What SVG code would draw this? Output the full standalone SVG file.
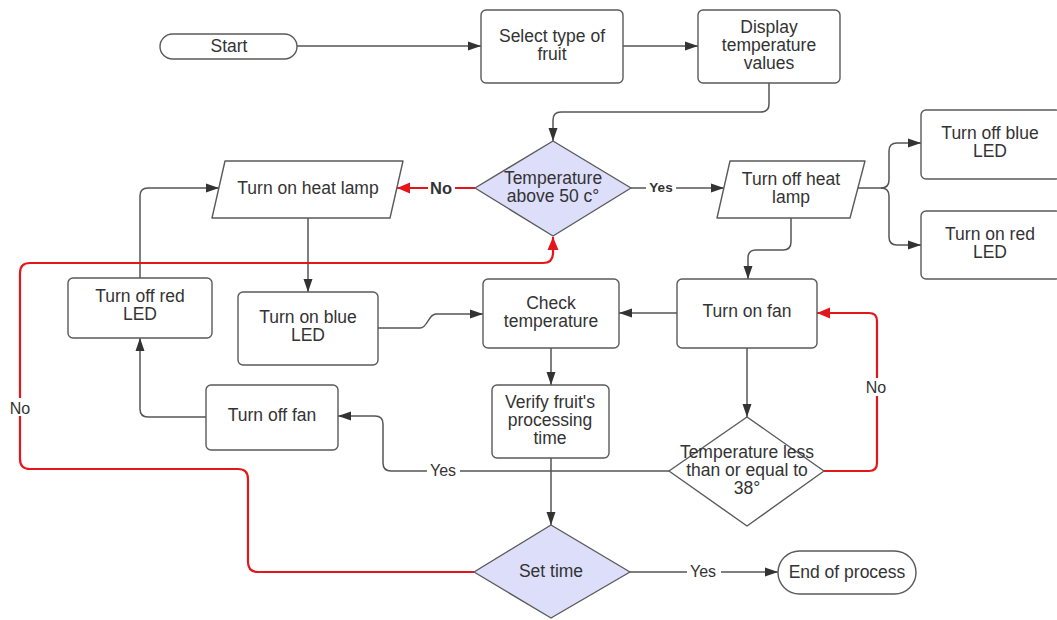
<svg xmlns="http://www.w3.org/2000/svg" width="1057" height="620" viewBox="0 0 1057 620">
<style>
.n{fill:#fff;stroke:#5a5a5a;stroke-width:1.4;stroke-linejoin:round}
.d{fill:#dddefa;stroke:#5a5a5a;stroke-width:1.4;stroke-linejoin:round}
.t{font-family:"Liberation Sans",Arial,sans-serif;font-size:17.5px;fill:#333;text-anchor:middle}
.c{fill:none;stroke:#555;stroke-width:1.5}
.r{fill:none;stroke:#e3171b;stroke-width:2.2}
.l{font-family:"Liberation Sans",Arial,sans-serif;font-size:16px;fill:#333;text-anchor:middle}
.lb{font-family:"Liberation Sans",Arial,sans-serif;font-weight:bold;fill:#333;text-anchor:middle}
</style>
<defs>
<marker id="a" markerUnits="userSpaceOnUse" markerWidth="14" markerHeight="10" refX="13" refY="5" orient="auto"><path d="M0,0.5 L13,5 L0,9.5 Z" fill="#333"/></marker>
<marker id="ar" markerUnits="userSpaceOnUse" markerWidth="14" markerHeight="12" refX="13" refY="6" orient="auto"><path d="M0,0.5 L13,6 L0,11.5 Z" fill="#e3171b"/></marker>
</defs>
<rect width="1057" height="620" fill="#fff"/>
<g id="connectors">
<path class="c" marker-end="url(#a)" d="M297,46 H481"/>
<path class="c" marker-end="url(#a)" d="M623,46 H698"/>
<path class="c" marker-end="url(#a)" d="M769,83 V104 Q769,112 761,112 H561 Q553,112 553,120 V141"/>
<path class="r" marker-end="url(#ar)" d="M475,188 H397"/>
<path class="c" marker-end="url(#a)" d="M631,188 H724"/>
<path class="c" marker-end="url(#a)" d="M858,188 H881 Q889,188 889,180 V151 Q889,143 897,143 H921"/>
<path class="c" marker-end="url(#a)" d="M881,188 Q889,188 889,196 V237 Q889,245 897,245 H921"/>
<path class="c" marker-end="url(#a)" d="M791,218 V242 Q791,250 783,250 H756 Q748,250 748,258 V279"/>
<path class="c" marker-end="url(#a)" d="M308,218 V292"/>
<path class="c" marker-end="url(#a)" d="M378,328 H420 C428,328 428,314 436,314 H483"/>
<path class="c" marker-end="url(#a)" d="M677,313 H619"/>
<path class="c" marker-end="url(#a)" d="M551,348 V385"/>
<path class="c" marker-end="url(#a)" d="M551,458 V525"/>
<path class="c" marker-end="url(#a)" d="M747,348 V417"/>
<path class="c" marker-end="url(#a)" d="M669,471 H391 Q383,471 383,463 V424 Q383,416 375,416 H338"/>
<path class="r" marker-end="url(#ar)" d="M824,471 H869 Q877,471 877,463 V321 Q877,313 869,313 H817"/>
<path class="c" marker-end="url(#a)" d="M206,417 H148 Q140,417 140,409 V338"/>
<path class="c" marker-end="url(#a)" d="M140,278 V196 Q140,188 148,188 H219"/>
<path class="c" marker-end="url(#a)" d="M630,572 H778"/>
<path class="r" marker-end="url(#ar)" d="M474,572 H258 Q248,572 248,562 V479 Q248,469 238,469 H30 Q20,469 20,459 V273 Q20,263 30,263 H543 Q553,263 553,253 V237"/>
<rect x="428" y="178" width="27" height="18" fill="#fff"/>
<text class="lb" x="441" y="194" font-size="16.5">No</text>
<rect x="646" y="180" width="30" height="14" fill="#fff"/>
<text class="lb" x="661" y="192" font-size="13.5">Yes</text>
<rect x="427" y="461" width="33" height="17" fill="#fff"/>
<text class="l" x="443" y="476">Yes</text>
<rect x="864" y="378" width="24" height="18" fill="#fff"/>
<text class="l" x="876" y="393">No</text>
<rect x="8" y="398" width="26" height="18" fill="#fff"/>
<text class="l" x="20" y="414">No</text>
<rect x="687" y="563" width="34" height="16" fill="#fff"/>
<text class="l" x="703" y="577">Yes</text>
</g>
<g id="start"><rect class="n" x="160" y="34" width="137" height="25" rx="12.5"/><text class="t" x="229" y="52">Start</text></g>
<g id="select"><rect class="n" x="481" y="10" width="142" height="73" rx="5"/><text class="t" x="552" y="42">Select type of</text><text class="t" x="552" y="60">fruit</text></g>
<g id="display"><rect class="n" x="698" y="10" width="142" height="73" rx="5"/><text class="t" x="769" y="33">Display</text><text class="t" x="769" y="51">temperature</text><text class="t" x="769" y="69">values</text></g>
<g id="dec50"><polygon class="d" points="553,141 631,188 553,236 475,188"/><text class="t" x="553" y="184">Temperature</text><text class="t" x="553" y="202">above 50 c°</text></g>
<g id="heaton"><polygon class="n" points="225,161 403,161 390,218 212,218"/><text class="t" x="308" y="194">Turn on heat lamp</text></g>
<g id="heatoff"><polygon class="n" points="730,161 865,161 850,218 717,218"/><text class="t" x="791" y="185">Turn off heat</text><text class="t" x="791" y="203">lamp</text></g>
<g id="blueoff"><rect class="n" x="921" y="110" width="140" height="69" rx="5"/><text class="t" x="990" y="139">Turn off blue</text><text class="t" x="990" y="157">LED</text></g>
<g id="redon"><rect class="n" x="921" y="211" width="140" height="68" rx="5"/><text class="t" x="990" y="240">Turn on red</text><text class="t" x="990" y="258">LED</text></g>
<g id="redoff"><rect class="n" x="68" y="278" width="144" height="60" rx="5"/><text class="t" x="140" y="302">Turn off red</text><text class="t" x="140" y="320">LED</text></g>
<g id="blueon"><rect class="n" x="238" y="292" width="140" height="73" rx="5"/><text class="t" x="308" y="323">Turn on blue</text><text class="t" x="308" y="341">LED</text></g>
<g id="check"><rect class="n" x="483" y="279" width="136" height="69" rx="5"/><text class="t" x="551" y="309">Check</text><text class="t" x="551" y="327">temperature</text></g>
<g id="fanon"><rect class="n" x="677" y="279" width="140" height="69" rx="5"/><text class="t" x="747" y="317">Turn on fan</text></g>
<g id="fanoff"><rect class="n" x="206" y="385" width="132" height="65" rx="5"/><text class="t" x="272" y="421">Turn off fan</text></g>
<g id="verify"><rect class="n" x="492" y="385" width="117" height="73" rx="5"/><text class="t" x="550" y="408">Verify fruit's</text><text class="t" x="550" y="426">processing</text><text class="t" x="550" y="444">time</text></g>
<g id="dec38"><polygon class="n" points="747,417 824,471 747,526 669,471" fill="none"/><text class="t" x="747" y="458">Temperature less</text><text class="t" x="747" y="476">than or equal to</text><text class="t" x="747" y="494">38°</text></g>
<g id="settime"><polygon class="d" points="551,525 630,572 551,618 474,572"/><text class="t" x="551" y="577">Set time</text></g>
<g id="end"><rect class="n" x="778" y="551" width="138" height="43" rx="21.5"/><text class="t" x="847" y="578">End of process</text></g>
</svg>
